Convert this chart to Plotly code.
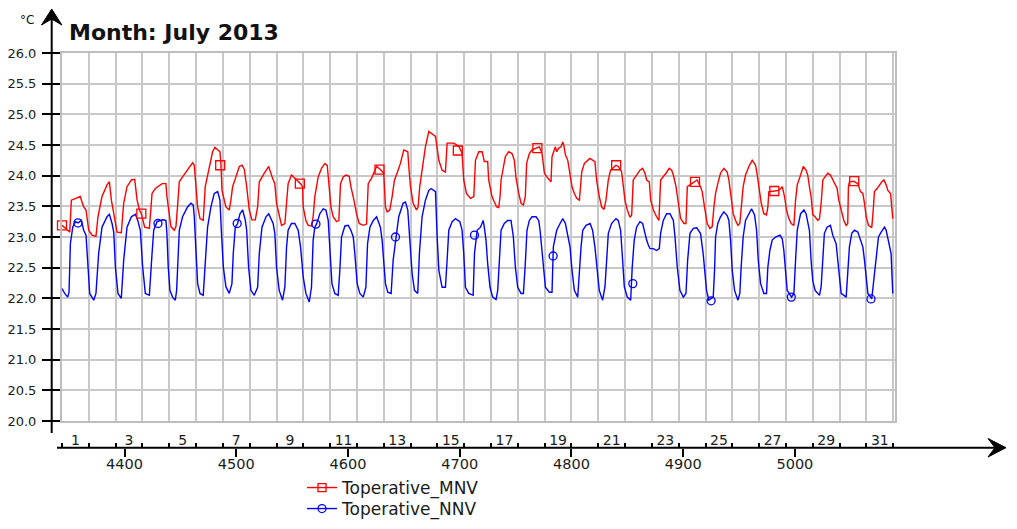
import plotly.graph_objects as go

# ---------------- data (hour of year 2013, operative temperature in degC) ----------------
mnv_points = [
    (4344.0, 23.19), (4347.0, 23.14), (4350.9, 23.08), (4352.4, 23.60), (4356.5, 23.63), (4360.4, 23.66), (4361.9, 23.57), (4363.4, 23.49), (4365.5, 23.44), (4367.9, 23.11), (4370.9, 23.03), (4374.4, 23.01),
    (4376.2, 23.33), (4379.8, 23.66), (4384.3, 23.85), (4386.4, 23.90), (4388.2, 23.60), (4391.2, 23.33), (4393.3, 23.08), (4397.1, 23.07),
    (4399.2, 23.55), (4402.2, 23.82), (4406.1, 23.93), (4409.1, 23.94), (4411.2, 23.60), (4413.3, 23.44), (4415.0, 23.38), (4418.0, 23.16), (4422.2, 23.14),
    (4424.6, 23.71), (4427.6, 23.79), (4433.6, 23.87), (4437.0, 23.87), (4437.9, 23.66), (4440.0, 23.33), (4441.5, 23.17), (4444.5, 23.11), (4446.0, 23.17),
    (4447.5, 23.52), (4449.0, 23.90), (4451.9, 23.98), (4456.4, 24.10), (4460.9, 24.21), (4462.4, 24.17), (4463.9, 23.82), (4465.4, 23.49), (4467.5, 23.30), (4470.4, 23.27),
    (4472.2, 23.82), (4475.8, 24.12), (4478.8, 24.39), (4480.9, 24.46), (4483.3, 24.42), (4485.4, 24.39), (4486.3, 24.17), (4487.2, 23.76), (4490.7, 23.49), (4493.7, 23.44),
    (4495.2, 23.60), (4496.7, 23.82), (4499.7, 23.98), (4502.7, 24.15), (4505.1, 24.17), (4507.2, 24.10), (4509.3, 23.82), (4511.6, 23.44), (4514.0, 23.28), (4517.0, 23.28),
    (4519.1, 23.49), (4520.6, 23.90), (4525.1, 24.04), (4529.0, 24.15), (4532.4, 23.96), (4534.5, 23.87), (4536.0, 23.55), (4538.4, 23.33), (4540.5, 23.19), (4543.5, 23.22),
    (4545.0, 23.60), (4546.4, 23.87), (4549.4, 24.01), (4552.4, 23.96), (4555.4, 23.90), (4557.5, 23.87), (4559.3, 23.82), (4559.9, 23.49), (4562.3, 23.27), (4564.4, 23.19), (4567.3, 23.18),
    (4568.8, 23.33), (4570.3, 23.66), (4573.3, 23.98), (4576.3, 24.12), (4579.3, 24.20), (4581.4, 24.17), (4583.2, 23.82), (4584.7, 23.49), (4586.7, 23.33), (4589.7, 23.25), (4591.8, 23.27),
    (4593.3, 23.87), (4595.7, 23.98), (4598.1, 24.01), (4601.1, 23.99), (4602.6, 23.82), (4605.3, 23.60), (4607.6, 23.38), (4610.0, 23.22), (4613.6, 23.19), (4616.6, 23.21),
    (4618.1, 23.87), (4621.1, 23.96), (4623.2, 24.04), (4625.6, 24.15), (4629.0, 24.10), (4632.0, 24.04), (4632.6, 23.82), (4633.5, 23.49), (4635.0, 23.41), (4637.4, 23.44),
    (4639.5, 23.66), (4641.6, 23.93), (4643.9, 24.04), (4646.9, 24.20), (4649.9, 24.42), (4653.5, 24.39), (4654.4, 24.15), (4655.9, 23.82), (4658.3, 23.55), (4661.3, 23.44), (4662.7, 23.49),
    (4664.2, 23.82), (4666.3, 24.09), (4669.3, 24.47), (4672.3, 24.72), (4675.3, 24.68), (4678.3, 24.64), (4679.8, 24.45), (4681.3, 24.25), (4684.2, 24.09), (4687.2, 24.06),
    (4688.7, 24.53), (4694.7, 24.53), (4699.2, 24.48), (4702.1, 24.36), (4703.6, 23.93), (4706.0, 23.71), (4709.6, 23.63), (4712.6, 23.66),
    (4714.1, 24.25), (4717.1, 24.39), (4720.1, 24.39), (4722.0, 24.23), (4725.0, 24.23), (4725.9, 23.93), (4727.1, 23.82), (4728.9, 23.66), (4731.0, 23.57), (4733.1, 23.49), (4734.9, 23.48),
    (4736.1, 23.66), (4737.0, 23.93), (4738.4, 24.09), (4740.8, 24.31), (4743.8, 24.39), (4746.8, 24.36), (4748.9, 24.25), (4750.4, 23.96), (4752.8, 23.71), (4754.9, 23.55), (4757.0, 23.52),
    (4758.7, 23.66), (4759.9, 24.20), (4762.3, 24.36), (4764.7, 24.42), (4769.2, 24.45), (4771.3, 24.47), (4773.7, 24.36), (4775.8, 24.04), (4777.9, 23.98), (4781.7, 23.90),
    (4782.6, 24.31), (4785.6, 24.47), (4786.8, 24.39), (4788.6, 24.45), (4790.7, 24.47), (4792.2, 24.55), (4793.1, 24.50), (4794.6, 24.34), (4796.7, 24.25), (4798.7, 23.98),
    (4800.5, 23.82), (4802.6, 23.71), (4804.7, 23.63), (4807.1, 23.60),
    (4808.0, 23.82), (4809.2, 24.06), (4811.6, 24.20), (4814.6, 24.25), (4816.5, 24.28), (4821.0, 24.23), (4822.5, 23.93), (4824.9, 23.66), (4827.0, 23.49), (4829.1, 23.45),
    (4830.9, 23.60), (4833.0, 23.93), (4835.0, 24.09), (4839.8, 24.17), (4841.9, 24.15), (4844.9, 24.06), (4845.8, 23.90), (4847.9, 23.60), (4850.0, 23.44), (4852.4, 23.32), (4853.9, 23.36),
    (4855.3, 23.93), (4858.3, 24.01), (4861.3, 24.09), (4863.7, 24.12), (4865.8, 24.04), (4867.3, 23.93), (4869.7, 23.90), (4870.9, 23.60), (4873.3, 23.44), (4876.2, 23.33), (4878.3, 23.27),
    (4879.8, 23.93), (4882.2, 23.98), (4884.6, 24.04), (4887.6, 24.12), (4889.7, 24.09), (4891.2, 24.01), (4893.6, 23.82), (4895.7, 23.55), (4897.7, 23.30), (4900.7, 23.22), (4902.5, 23.22),
    (4903.7, 23.82), (4906.1, 23.85), (4910.6, 23.90), (4912.5, 23.93), (4915.5, 23.82), (4917.0, 23.74), (4919.1, 23.49), (4921.5, 23.22), (4923.9, 23.14), (4926.0, 23.17),
    (4927.5, 23.49), (4929.0, 23.71), (4931.0, 23.87), (4933.4, 24.04), (4936.4, 24.12), (4939.4, 24.06), (4940.9, 23.93), (4942.4, 23.71), (4944.8, 23.38), (4946.9, 23.27), (4949.0, 23.19), (4950.7, 23.22),
    (4951.9, 23.49), (4953.7, 23.82), (4955.8, 24.01), (4958.8, 24.15), (4961.8, 24.25), (4964.8, 24.17), (4966.3, 24.01), (4967.8, 23.82), (4969.9, 23.55), (4972.2, 23.38), (4974.6, 23.36),
    (4975.8, 23.49), (4976.7, 23.74), (4981.8, 23.75), (4985.7, 23.76), (4988.7, 23.82), (4990.7, 23.66), (4992.5, 23.44), (4994.6, 23.30), (4996.7, 23.22), (4999.1, 23.19),
    (5000.6, 23.60), (5002.1, 23.85), (5005.1, 24.01), (5007.5, 24.15), (5010.0, 24.09), (5011.5, 24.01), (5013.0, 23.82), (5014.5, 23.66), (5016.0, 23.36), (5018.1, 23.33), (5020.5, 23.27), (5022.0, 23.30),
    (5023.5, 23.55), (5025.0, 23.93), (5027.0, 23.98), (5029.4, 24.04), (5031.8, 24.01), (5033.9, 23.93), (5035.4, 23.87), (5037.8, 23.79), (5039.3, 23.60), (5041.4, 23.44), (5043.8, 23.27), (5045.9, 23.19), (5047.3, 23.22),
    (5047.9, 23.82), (5048.8, 23.90), (5052.7, 23.91), (5056.3, 23.87), (5058.7, 23.74), (5060.8, 23.71), (5062.3, 23.55), (5063.8, 23.33), (5065.9, 23.19), (5068.8, 23.15),
    (5070.3, 23.49), (5071.2, 23.74), (5073.6, 23.79), (5075.7, 23.85), (5077.8, 23.90), (5079.6, 23.93), (5081.7, 23.85), (5083.2, 23.76), (5085.6, 23.71), (5086.7, 23.49), (5087.6, 23.30),
]

nnv_points = [
    (4344.0, 22.16), (4346.4, 22.08), (4349.1, 22.02), (4350.3, 22.10), (4351.5, 22.89), (4353.6, 23.16), (4355.9, 23.25), (4358.3, 23.23), (4361.3, 23.27), (4363.4, 23.11), (4365.5, 23.03),
    (4367.0, 22.51), (4368.8, 22.08), (4372.4, 21.97), (4374.4, 22.08), (4376.8, 22.73), (4379.8, 23.16), (4384.3, 23.33), (4386.4, 23.37), (4388.8, 23.22), (4390.3, 23.08),
    (4391.8, 22.51), (4394.1, 22.08), (4397.1, 22.00), (4399.2, 22.62), (4402.2, 23.16), (4406.1, 23.33), (4409.7, 23.37), (4411.8, 23.27), (4414.1, 23.11),
    (4416.2, 22.51), (4418.6, 22.08), (4422.2, 22.05), (4424.6, 22.73), (4426.1, 23.11), (4429.1, 23.25), (4434.1, 23.28), (4437.0, 23.27), (4437.9, 23.06),
    (4439.1, 22.51), (4440.6, 22.13), (4443.0, 22.02), (4445.4, 21.97), (4446.6, 22.13), (4447.5, 22.62), (4449.0, 23.11), (4451.9, 23.33), (4456.4, 23.49), (4459.4, 23.55), (4461.5, 23.52), (4462.4, 23.33),
    (4463.9, 22.73), (4465.4, 22.24), (4467.5, 22.08), (4470.4, 22.05), (4472.2, 22.57), (4474.3, 23.16), (4477.3, 23.49), (4480.3, 23.71), (4483.3, 23.74), (4485.4, 23.60), (4486.6, 23.11),
    (4488.4, 22.51), (4490.7, 22.19), (4493.7, 22.08), (4496.1, 22.24), (4497.3, 22.73), (4499.1, 23.16), (4501.2, 23.22), (4503.3, 23.38), (4505.7, 23.44), (4508.1, 23.27), (4509.3, 23.11),
    (4511.0, 22.51), (4513.1, 22.13), (4516.1, 22.05), (4519.1, 22.18), (4520.6, 22.73), (4523.0, 23.16), (4526.6, 23.33), (4529.0, 23.38), (4533.0, 23.22), (4534.5, 23.06),
    (4536.0, 22.51), (4538.4, 22.13), (4541.4, 21.97), (4543.5, 22.19), (4545.0, 22.84), (4546.4, 23.11), (4549.4, 23.22), (4552.4, 23.22), (4555.4, 23.11), (4557.5, 22.84),
    (4559.9, 22.35), (4562.3, 22.08), (4565.3, 21.94), (4567.3, 22.18), (4568.8, 22.95), (4570.3, 23.16), (4571.8, 23.21), (4574.8, 23.38), (4577.8, 23.46), (4580.2, 23.44), (4582.3, 23.27),
    (4583.8, 22.73), (4585.6, 22.24), (4588.2, 22.08), (4591.2, 22.05), (4592.7, 22.46), (4594.2, 23.00), (4597.2, 23.18), (4600.2, 23.19), (4602.6, 23.11), (4604.7, 23.00),
    (4606.1, 22.73), (4608.2, 22.24), (4610.6, 22.08), (4613.6, 22.02), (4616.0, 22.18), (4617.5, 22.89), (4619.6, 23.16), (4622.6, 23.27), (4625.6, 23.33), (4629.0, 23.16), (4630.5, 22.95),
    (4632.0, 22.51), (4633.5, 22.24), (4635.6, 22.10), (4638.6, 22.08), (4640.4, 22.62), (4645.4, 23.33), (4649.3, 23.55), (4651.4, 23.57), (4653.5, 23.44), (4655.0, 23.00),
    (4657.4, 22.40), (4659.5, 22.13), (4662.4, 22.08), (4663.9, 22.73), (4666.3, 23.33), (4669.3, 23.60), (4672.3, 23.76), (4674.4, 23.79), (4678.3, 23.74), (4679.8, 23.00),
    (4681.3, 22.46), (4684.2, 22.18), (4687.2, 22.18), (4688.7, 22.62), (4690.2, 23.11), (4693.2, 23.25), (4696.2, 23.30), (4700.1, 23.25), (4702.1, 23.11),
    (4703.6, 22.73), (4705.1, 22.18), (4708.1, 22.08), (4712.0, 22.05), (4713.2, 22.73), (4715.6, 23.11), (4718.6, 23.16), (4721.0, 23.27), (4722.0, 23.16), (4723.5, 22.95),
    (4725.0, 22.57), (4727.1, 22.18), (4729.5, 22.02), (4732.5, 21.98), (4734.0, 22.13), (4735.5, 22.62), (4737.0, 23.11), (4739.9, 23.22), (4742.9, 23.27), (4745.9, 23.27), (4748.0, 23.00),
    (4749.8, 22.51), (4751.9, 22.18), (4754.9, 22.08), (4757.0, 22.08), (4758.7, 22.57), (4760.2, 23.11), (4762.3, 23.27), (4764.7, 23.33), (4768.3, 23.33), (4770.7, 23.27), (4771.9, 23.11),
    (4774.3, 22.62), (4776.7, 22.18), (4780.2, 22.10), (4782.6, 22.10), (4783.8, 22.84), (4786.8, 23.11), (4789.8, 23.22), (4792.2, 23.30), (4794.6, 23.22), (4796.7, 23.00), (4798.7, 22.84),
    (4800.5, 22.46), (4802.6, 22.13), (4805.6, 22.02), (4807.1, 22.46), (4808.6, 22.84), (4810.1, 23.11), (4813.1, 23.19), (4816.7, 23.22), (4818.9, 23.11), (4821.0, 22.84),
    (4822.5, 22.51), (4824.9, 22.13), (4827.9, 21.97), (4830.0, 22.19), (4831.5, 22.62), (4833.0, 23.06), (4835.9, 23.22), (4839.8, 23.30), (4841.9, 23.27), (4844.0, 23.11),
    (4845.8, 22.62), (4847.3, 22.19), (4850.0, 22.02), (4853.0, 21.97), (4854.4, 22.51), (4856.2, 22.95), (4858.3, 23.16), (4861.3, 23.25), (4863.7, 23.22), (4864.9, 23.11),
    (4867.3, 22.95), (4868.8, 22.87), (4870.3, 22.81), (4873.3, 22.81), (4876.2, 22.78), (4878.6, 22.81), (4879.8, 23.06), (4882.2, 23.27), (4885.2, 23.38), (4888.2, 23.38), (4891.2, 23.27), (4892.7, 23.00),
    (4894.7, 22.51), (4897.1, 22.13), (4900.1, 22.02), (4902.5, 22.08), (4904.0, 22.62), (4906.1, 23.06), (4909.1, 23.14), (4912.1, 23.15), (4915.5, 23.06), (4917.9, 22.73),
    (4919.1, 22.51), (4920.9, 22.13), (4923.0, 21.97), (4926.9, 22.02), (4928.1, 22.46), (4929.0, 23.00), (4931.0, 23.22), (4933.4, 23.33), (4936.4, 23.41), (4939.4, 23.35), (4940.9, 23.27),
    (4942.4, 22.95), (4943.9, 22.46), (4946.0, 22.13), (4949.0, 21.97), (4950.7, 22.08), (4951.9, 22.51), (4953.7, 23.00), (4955.8, 23.27), (4958.8, 23.38), (4961.2, 23.46), (4963.9, 23.36), (4965.7, 23.11),
    (4967.2, 22.62), (4969.3, 22.24), (4972.2, 22.08), (4974.6, 22.08), (4975.8, 22.51), (4977.6, 22.78), (4979.7, 22.95), (4982.7, 23.00), (4986.6, 23.03), (4988.7, 22.97), (4990.1, 22.78),
    (4991.6, 22.46), (4993.1, 22.13), (4997.0, 22.02), (4999.1, 22.08), (5000.6, 22.62), (5002.1, 23.11), (5005.1, 23.38), (5008.1, 23.44), (5010.0, 23.38), (5011.5, 23.27), (5013.0, 23.11),
    (5014.5, 22.62), (5016.0, 22.29), (5018.1, 22.13), (5022.0, 22.05), (5023.5, 22.19), (5025.0, 22.62), (5026.4, 23.06), (5028.8, 23.16), (5031.8, 23.19), (5033.9, 23.03), (5035.4, 22.95), (5036.9, 22.89),
    (5038.4, 22.62), (5039.9, 22.29), (5041.4, 22.08), (5045.9, 22.02), (5047.3, 22.35), (5048.8, 22.84), (5050.9, 23.06), (5053.3, 23.11), (5056.3, 23.08), (5058.7, 22.95), (5060.8, 22.84),
    (5062.3, 22.62), (5063.8, 22.29), (5065.3, 22.08), (5068.8, 21.99), (5071.2, 22.40), (5072.7, 22.73), (5074.8, 23.00), (5077.2, 23.08), (5080.2, 23.16), (5081.7, 23.11), (5083.8, 22.95),
    (5086.1, 22.73), (5087.6, 22.08),
]

mnv_marker_hours = [4344.0, 4415.0, 4485.6, 4556.9, 4628.2, 4698.3, 4769.5, 4840.0, 4910.6, 4981.6, 5053.1]
mnv_marker_temps = [23.19, 23.38, 24.17, 23.87, 24.10, 24.41, 24.45, 24.17, 23.90, 23.75, 23.91]
nnv_marker_hours = [4358.3, 4429.9, 4500.8, 4571.3, 4642.5, 4713.2, 4783.6, 4854.9, 4925.0, 4996.8, 5068.1]
nnv_marker_temps = [23.23, 23.22, 23.22, 23.21, 23.00, 23.03, 22.69, 22.24, 21.96, 22.02, 21.99]

hour_ticks = [4400, 4500, 4600, 4700, 4800, 4900, 5000]
day_label_hours = [4356, 4404, 4452, 4500, 4548, 4596, 4644, 4692, 4740, 4788, 4836, 4884, 4932, 4980, 5028, 5076]
day_labels = ["1", "3", "5", "7", "9", "11", "13", "15", "17", "19", "21", "23", "25", "27", "29", "31"]
series_names = ["Toperative_MNV", "Toperative_NNV"]
title_text = "Month: July 2013"
unit_text = "°C"

# ---------------- layout geometry (page body has an 8px margin) ----------------
OFF = 8
W, H = 1017 - OFF, 529 - OFF
ML, MR, MT, MB = 62 - OFF, 122, 53 - OFF, 29
PW, PH = W - ML - MR, H - MT - MB
X_RANGE = [4344, 5089.6]
Y_RANGE = [20, 26]
RED, BLUE = "#ff0000", "#0000ff"
FONT = "DejaVu Sans"


def pxx(x):
    # reference-picture x pixel -> paper fraction
    return (x - OFF - ML) / PW


def pxy(y):
    # reference-picture y pixel -> paper fraction
    return (H - MB - (y - OFF)) / PH


AXIS_Y = 447.7
fig = go.Figure()

fig.add_trace(go.Scatter(x=[p[0] for p in mnv_points], y=[p[1] for p in mnv_points], mode="lines",
                         line=dict(color=RED, width=1.4), showlegend=False, hoverinfo="skip"))
fig.add_trace(go.Scatter(x=[p[0] for p in nnv_points], y=[p[1] for p in nnv_points], mode="lines",
                         line=dict(color=BLUE, width=1.4), showlegend=False, hoverinfo="skip"))
fig.add_trace(go.Scatter(x=mnv_marker_hours, y=mnv_marker_temps, mode="markers", cliponaxis=False,
                         marker=dict(symbol="square-open", size=9, color=RED, line=dict(width=1.3)),
                         showlegend=False, hoverinfo="skip"))
fig.add_trace(go.Scatter(x=nnv_marker_hours, y=nnv_marker_temps, mode="markers", cliponaxis=False,
                         marker=dict(symbol="circle-open", size=8, color=BLUE, line=dict(width=1.3)),
                         showlegend=False, hoverinfo="skip"))
# legend entries
fig.add_trace(go.Scatter(x=[None], y=[None], mode="lines+markers", name=series_names[0], xaxis="x2",
                         legend="legend", line=dict(color=RED, width=1.4),
                         marker=dict(symbol="square-open", size=8, color=RED, line=dict(width=1.3))))
fig.add_trace(go.Scatter(x=[None], y=[None], mode="lines+markers", name=series_names[1], xaxis="x3",
                         legend="legend2", line=dict(color=BLUE, width=1.4),
                         marker=dict(symbol="circle-open", size=8, color=BLUE, line=dict(width=1.3))))
fig.add_trace(go.Scatter(x=[None], y=[None], mode="lines", xaxis="x4", showlegend=False, hoverinfo="skip"))
fig.add_trace(go.Scatter(x=[None], y=[None], mode="lines", xaxis="x5", showlegend=False, hoverinfo="skip"))

grid = "#c8c8c8"
pos = pxy(AXIS_Y)
tickfont = dict(family=FONT, size=14, color="#1a1a1a")
legfont = dict(family=FONT, size=17, color="#1a1a1a")
common = dict(range=X_RANGE, overlaying="x", anchor="free", position=pos, showgrid=False,
              zeroline=False, showline=False, automargin=False)

fig.update_layout(
    width=W, height=H, margin=dict(l=ML, r=MR, t=MT, b=MB, autoexpand=False),
    paper_bgcolor="white", plot_bgcolor="white",
    xaxis=dict(range=X_RANGE, tickmode="linear", tick0=4344, dtick=24, showgrid=True, gridcolor=grid,
               gridwidth=1.6, showticklabels=False, ticks="", zeroline=False, showline=True,
               linecolor="#bdbdbd", linewidth=2, mirror=True, anchor="y", automargin=False),
    yaxis=dict(range=Y_RANGE, domain=[pxy(421), 1], tickmode="linear", tick0=20, dtick=0.5,
               tickformat=".1f", showgrid=True, gridcolor=grid, gridwidth=1.6, zeroline=False,
               ticks="outside", ticklen=18, tickwidth=1.5, tickcolor="black", showline=True,
               linecolor="#bdbdbd", linewidth=2, mirror=True, automargin=False, ticklabelstandoff=3,
               tickfont=dict(family=FONT, size=13, color="#1a1a1a")),
    # hour labels
    xaxis2=dict(common, side="bottom", tickmode="array", tickvals=hour_ticks,
                ticktext=[str(v) for v in hour_ticks], ticks="outside", ticklen=3,
                tickcolor="rgba(0,0,0,0)", tickfont=dict(family=FONT, size=14.5, color="#1a1a1a")),
    # hour tick marks
    xaxis5=dict(common, side="bottom", tickmode="array", tickvals=hour_ticks, ticks="outside",
                ticklen=8, tickwidth=1.5, tickcolor="black", showticklabels=False),
    # day boundary ticks
    xaxis3=dict(common, side="top", tickmode="linear", tick0=4344, dtick=24, ticks="outside",
                ticklen=5, tickwidth=1.5, tickcolor="black", showticklabels=False),
    # day labels
    xaxis4=dict(common, side="top", tickmode="array", tickvals=day_label_hours, ticktext=day_labels,
                ticks="", tickfont=tickfont),
    legend=dict(x=pxx(302), y=pxy(470), xanchor="left", yanchor="top", bgcolor="rgba(0,0,0,0)",
                font=legfont, itemwidth=30),
    legend2=dict(x=pxx(302), y=pxy(491), xanchor="left", yanchor="top", bgcolor="rgba(0,0,0,0)",
                 font=legfont, itemwidth=30),
    showlegend=True,
)

# axis lines with arrows
shapes = [
    dict(type="line", xref="paper", yref="paper", x0=pxx(51.7), x1=pxx(51.7), y0=pxy(433), y1=pxy(16),
         line=dict(color="black", width=2)),
    dict(type="path", xref="paper", yref="paper", fillcolor="black", line=dict(color="black", width=1),
         path=f"M {pxx(51.7)},{pxy(9)} L {pxx(41.5)},{pxy(25)} L {pxx(51.7)},{pxy(19)} L {pxx(61.9)},{pxy(25)} Z"),
    dict(type="line", xref="paper", yref="paper", x0=pxx(57), x1=pxx(998), y0=pxy(AXIS_Y), y1=pxy(AXIS_Y),
         line=dict(color="black", width=2)),
    dict(type="path", xref="paper", yref="paper", fillcolor="black", line=dict(color="black", width=1),
         path=f"M {pxx(1006)},{pxy(AXIS_Y)} L {pxx(988)},{pxy(438.5)} L {pxx(995)},{pxy(AXIS_Y)} L {pxx(988)},{pxy(457)} Z"),
]
fig.update_layout(shapes=shapes)

fig.add_annotation(text=f"<b>{title_text}</b>", xref="paper", yref="paper", x=pxx(67), y=pxy(33),
                   xanchor="left", yanchor="middle", showarrow=False,
                   font=dict(family=FONT, size=22, color="#111111"))
fig.add_annotation(text=unit_text, xref="paper", yref="paper", x=pxx(27), y=pxy(20),
                   xanchor="center", yanchor="middle", showarrow=False,
                   font=dict(family=FONT, size=12, color="#111111"))

fig.write_html("out.html")
